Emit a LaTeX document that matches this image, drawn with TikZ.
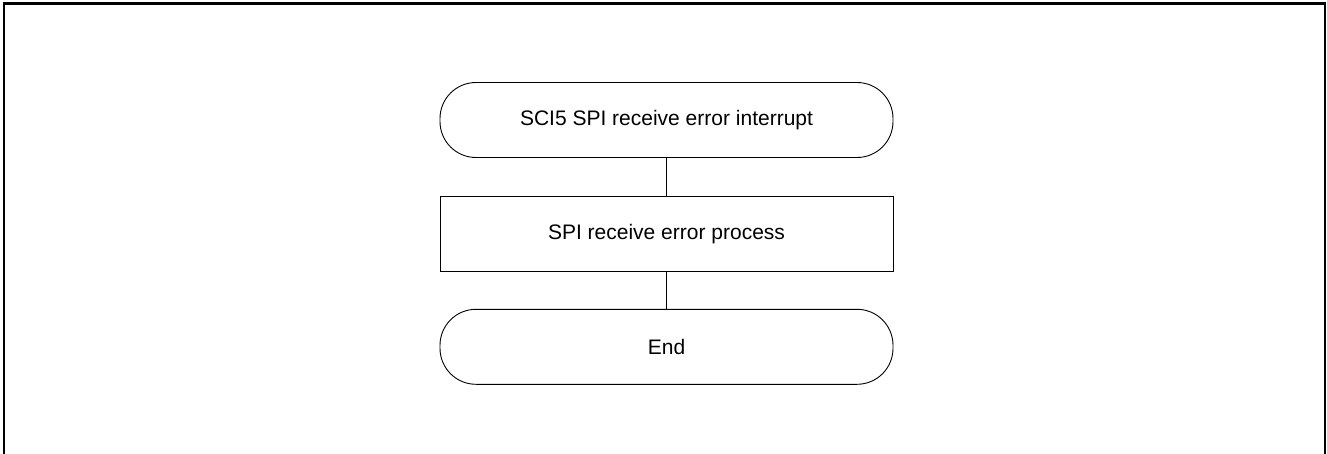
\documentclass[tikz,border=0pt]{standalone}
\usepackage{fontspec}
\setmainfont{Liberation Sans}
\usetikzlibrary{positioning}

\tikzset{
    terminal/.style={draw, line width=0.9pt, rounded corners=36pt, minimum width=453pt, minimum height=75pt, inner sep=0pt},
    process/.style={draw, line width=0.9pt, minimum width=453pt, minimum height=75pt, inner sep=0pt},
    link/.style={line width=0.9pt}
}

\begin{document}
\begin{tikzpicture}[x=1pt, y=1pt, font=\fontsize{21}{25}\selectfont]
    \def\xl{4};
    \def\xr{1325};
    \def\yt{-3.5};
    \def\yb{-454};

    \useasboundingbox (0, 0) rectangle (1327, -454);

    % frame, open at the bottom
    \draw[line width=2.5pt] (\xl, \yb) -- (\xl, \yt) -- (\xr, \yt) -- (\xr, \yb);

    \node[terminal] (start) at (666.5, -120) {SCI5 SPI receive error interrupt};
    \node[process, below=38pt of start] (proc) {SPI receive error process};
    \node[terminal, below=37pt of proc] (stop) {End};

    \draw[link] (start) -- (proc);
    \draw[link] (proc) -- (stop);

\end{tikzpicture}
\end{document}
